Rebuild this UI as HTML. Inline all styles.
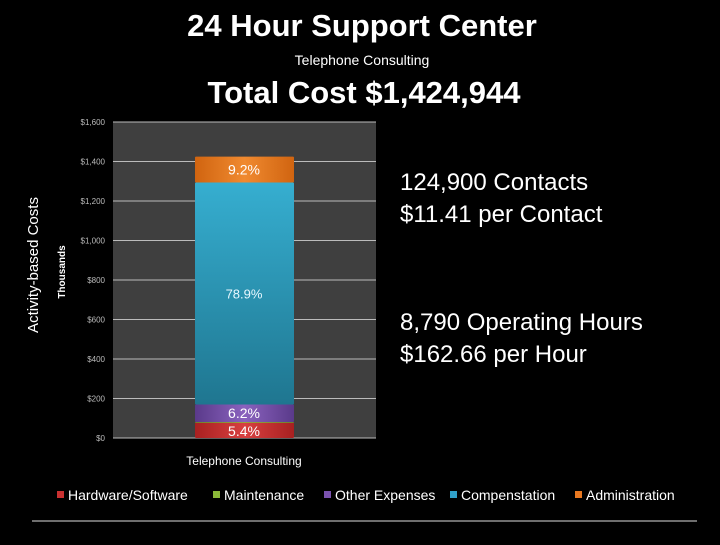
<!DOCTYPE html>
<html><head><meta charset="utf-8"><style>
body{margin:0;background:#000;width:720px;height:540px;overflow:hidden;font-family:"Liberation Sans",sans-serif;color:#fff}
svg text{fill:#fff}
</style></head><body>
<svg width="720" height="540" xmlns="http://www.w3.org/2000/svg" fill="#fff">
<defs>
<linearGradient id="g0" x1="0" x2="1"><stop offset="0" stop-color="#a82020"/><stop offset=".5" stop-color="#d84040"/><stop offset="1" stop-color="#a82020"/></linearGradient>
<linearGradient id="g1" x1="0" x2="1"><stop offset="0" stop-color="#6e9a2a"/><stop offset=".5" stop-color="#9cc840"/><stop offset="1" stop-color="#6e9a2a"/></linearGradient>
<linearGradient id="g2" x1="0" x2="1"><stop offset="0" stop-color="#5a3a8a"/><stop offset=".5" stop-color="#8a62be"/><stop offset="1" stop-color="#5a3a8a"/></linearGradient>
<linearGradient id="g3" x1="0" x2="0" y1="0" y2="1"><stop offset="0" stop-color="#36aed0"/><stop offset="1" stop-color="#1f7690"/></linearGradient>
<linearGradient id="g4" x1="0" x2="1"><stop offset="0" stop-color="#d06410"/><stop offset=".5" stop-color="#f08a30"/><stop offset="1" stop-color="#d06410"/></linearGradient>
</defs>
<text x="362" y="36" text-anchor="middle" font-size="31" font-weight="bold">24 Hour Support Center</text>
<text x="362" y="65" text-anchor="middle" font-size="14">Telephone Consulting</text>
<text x="364" y="103" text-anchor="middle" font-size="31" font-weight="bold">Total Cost $1,424,944</text>
<rect x="113" y="122" width="263" height="316" fill="#3f3f3f"/>
<g id="grid"></g>
<g id="bars"></g>
<text transform="translate(38,265) rotate(-90)" text-anchor="middle" font-size="15">Activity-based Costs</text>
<text transform="translate(65,272) rotate(-90)" text-anchor="middle" font-size="10" font-weight="bold">Thousands</text>
<text x="244" y="465" text-anchor="middle" font-size="12">Telephone Consulting</text>
<g font-size="24">
<text x="400" y="190">124,900 Contacts</text>
<text x="400" y="222">$11.41 per Contact</text>
<text x="400" y="330">8,790 Operating Hours</text>
<text x="400" y="362">$162.66 per Hour</text>
</g>
<g id="legend" font-size="14"></g>
<line x1="32" y1="521" x2="697" y2="521" stroke="#ddd" stroke-width="1"/>
</svg>
<script>
const categories=["Telephone Consulting"];
const seriesNames=["Hardware/Software","Maintenance","Other Expenses","Compenstation","Administration"];
const seriesValues=[76.9,4.3,88.3,1124.3,131.1];
const pctLabels=["5.4%","","6.2%","78.9%","9.2%"];
const tickValues=[0,200,400,600,800,1000,1200,1400,1600];
const tickLabels=["$0","$200","$400","$600","$800","$1,000","$1,200","$1,400","$1,600"];
const legendColors=["#c83030","#8ab838","#7a52ae","#30a0c8","#e87820"];
const NS="http://www.w3.org/2000/svg";
const y=v=>438-v*316/1600;
function mk(t,a,p){const e=document.createElementNS(NS,t);for(const k in a)e.setAttribute(k,a[k]);p.appendChild(e);return e;}
const grid=document.getElementById('grid');
tickValues.forEach((v,i)=>{
 const l=mk('line',{x1:113,x2:376,y1:y(v),y2:y(v),stroke:'#bbb','stroke-width':1},grid);
 
 
 const t=mk('text',{x:105,y:y(v)+3,'text-anchor':'end','font-size':8,style:'fill:#bbb'},grid);
 t.textContent=tickLabels[i];
 
 
});
const bars=document.getElementById('bars');
let acc=0;
seriesValues.forEach((v,i)=>{
 const r=mk('rect',{x:195,width:99,y:y(acc+v),height:Math.max(0,y(acc)-y(acc+v)),fill:'url(#g'+i+')',rx:1},bars);
 
 
 if(pctLabels[i]){
  let cy=(y(acc)+y(acc+v))/2+5;
  if(i===0)cy=y(acc)-2;
  const t=mk('text',{x:244,y:cy,'text-anchor':'middle','font-size':i===3?13:14,style:i===3?'fill:#e8f8ff':'fill:#fff'},bars);
  t.textContent=pctLabels[i];
  
  
 }
 acc+=v;
});
const lg=document.getElementById('legend');
const lx=[57,213,324,450,575];
seriesNames.forEach((n,i)=>{
 const g=mk('g',{},lg);
 
 
 mk('rect',{x:lx[i],y:491,width:7,height:7,fill:legendColors[i]},g);
 const t=mk('text',{x:lx[i]+11,y:500},g);
 t.textContent=n;
});
</script>
</body></html>
